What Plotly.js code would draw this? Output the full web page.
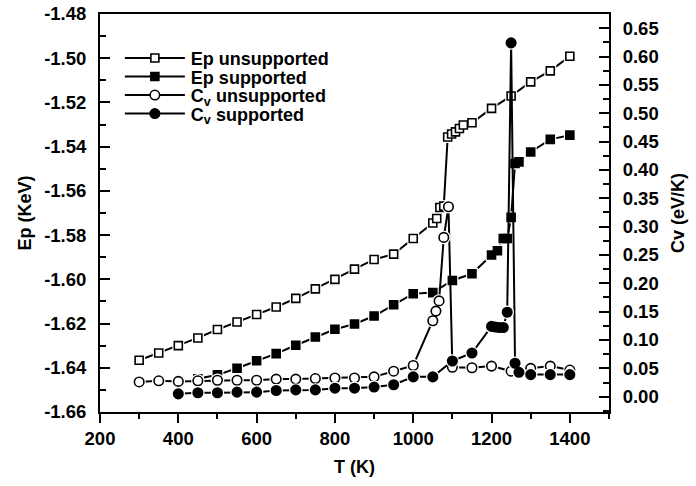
<!DOCTYPE html>
<html>
<head>
<meta charset="utf-8">
<script src="https://cdn.plot.ly/plotly-3.0.1.min.js"></script>
<style>html,body{margin:0;padding:0;background:#fff;}#chart{width:696px;height:486px;}</style>
</head>
<body>
<div id="chart"></div>
<script>
// ---- data ----
var T_epUnsup = [300,350,400,450,500,550,600,650,700,750,800,850,900,950,1000,1050,1060,1068,1078,1088,1098,1108,1118,1128,1150,1200,1250,1300,1350,1400];
var ep_unsupported = [-1.6366,-1.6333,-1.6300,-1.6265,-1.6227,-1.6193,-1.6159,-1.6125,-1.6086,-1.6043,-1.6000,-1.5954,-1.5910,-1.5886,-1.5815,-1.5745,-1.5725,-1.5675,-1.5669,-1.5356,-1.5343,-1.5333,-1.5318,-1.5302,-1.5292,-1.5227,-1.5171,-1.5107,-1.5057,-1.4991];

var T_epSup = [450,500,550,600,650,700,750,800,850,900,950,1000,1050,1100,1150,1200,1215,1230,1240,1250,1260,1270,1300,1350,1400];
var ep_supported = [-1.6450,-1.6432,-1.6402,-1.6368,-1.6336,-1.6298,-1.6261,-1.6226,-1.6202,-1.6166,-1.6115,-1.6065,-1.6060,-1.6005,-1.5975,-1.5890,-1.5871,-1.5815,-1.5815,-1.5720,-1.5476,-1.5469,-1.5424,-1.5367,-1.5348];

var T_cvUnsup = [300,350,400,450,500,550,600,650,700,750,800,850,900,950,1000,1050,1058,1066,1078,1090,1100,1150,1200,1250,1300,1350,1400];
var cv_unsupported = [0.026,0.028,0.027,0.028,0.029,0.029,0.029,0.031,0.031,0.032,0.033,0.033,0.035,0.045,0.055,0.134,0.151,0.169,0.281,0.335,0.052,0.051,0.054,0.045,0.050,0.054,0.047];

var T_cvSup = [400,450,500,550,600,650,700,750,800,850,900,950,1000,1050,1100,1150,1200,1210,1220,1230,1240,1250,1260,1270,1300,1350,1400];
var cv_supported = [0.005,0.007,0.007,0.008,0.008,0.011,0.012,0.012,0.015,0.015,0.017,0.021,0.035,0.035,0.063,0.077,0.124,0.123,0.122,0.122,0.149,0.624,0.059,0.043,0.039,0.039,0.039];

var seriesNames = ["Ep unsupported","Ep supported","C<sub>v</sub> unsupported","C<sub>v</sub> supported"];
var leftTickVals = [-1.66,-1.64,-1.62,-1.60,-1.58,-1.56,-1.54,-1.52,-1.50,-1.48];
var leftTickText = ["-1.66","-1.64","-1.62","-1.60","-1.58","-1.56","-1.54","-1.52","-1.50","-1.48"];
var xAxisTitle = "T (K)";
var leftAxisTitle = "Ep (KeV)";
var rightAxisTitle = "Cv (eV/K)";

// ---- styling ----
var FONT = "Liberation Sans, Arial, Helvetica, sans-serif";
var series = [
  {x:T_epUnsup, y:ep_unsupported, name:seriesNames[0], axis:'y',  symbol:'square', fill:'#ffffff', size:8},
  {x:T_epSup,   y:ep_supported,   name:seriesNames[1], axis:'y',  symbol:'square', fill:'#000000', size:8},
  {x:T_cvUnsup, y:cv_unsupported, name:seriesNames[2], axis:'y2', symbol:'circle', fill:'#ffffff', size:9.5},
  {x:T_cvSup,   y:cv_supported,   name:seriesNames[3], axis:'y2', symbol:'circle', fill:'#000000', size:9.5}
];

var traces = [];
series.forEach(function(s){
  traces.push({
    type:'scatter', mode:'lines+markers', x:s.x, y:s.y, yaxis:s.axis, name:s.name,
    line:{color:'#000', width:2},
    marker:{symbol:s.symbol, size:s.size, color:s.fill, line:{color:'#000', width:1.6}},
    cliponaxis:false
  });
  traces.push({
    type:'scatter', mode:'markers', x:s.x, y:s.y, yaxis:s.axis, showlegend:false, hoverinfo:'skip',
    marker:{symbol:s.symbol, size:s.size+4, color:'#ffffff', line:{width:0}},
    cliponaxis:false
  });
  traces.push({
    type:'scatter', mode:'markers', x:s.x, y:s.y, yaxis:s.axis, showlegend:false,
    marker:{symbol:s.symbol, size:s.size, color:s.fill, line:{color:'#000', width:1.6}},
    cliponaxis:false
  });
});

var tickFont = {family:FONT, size:18.5, color:'#000', weight:'bold'};
var titleFont = {family:FONT, size:18, color:'#000', weight:'bold'};

var layout = {
  width:696, height:486,
  margin:{l:100, r:87, t:14, b:74},
  paper_bgcolor:'#fff', plot_bgcolor:'#fff',
  showlegend:true,
  legend:{x:0.041, y:0.935, xanchor:'left', yanchor:'top', bgcolor:'rgba(0,0,0,0)',
          font:{family:FONT, size:18, color:'#000', weight:'bold'}, itemwidth:60, tracegroupgap:0},
  xaxis:{
    range:[200,1500], tick0:200, dtick:200, showgrid:false, zeroline:false,
    showline:true, linecolor:'#000', linewidth:2, mirror:true,
    ticks:'outside', ticklen:9, tickwidth:2, tickcolor:'#000',
    minor:{dtick:100, ticks:'outside', ticklen:5, tickwidth:2, tickcolor:'#000'},
    tickfont:tickFont,
    title:{text:xAxisTitle, font:titleFont, standoff:12}
  },
  yaxis:{
    range:[-1.66,-1.48], tickmode:'array', tickvals:leftTickVals, ticktext:leftTickText,
    showgrid:false, zeroline:false,
    showline:true, linecolor:'#000', linewidth:2,
    ticks:'inside', ticklen:10, tickwidth:2, tickcolor:'#000',
    minor:{dtick:0.01, tick0:-1.66, ticks:'inside', ticklen:6, tickwidth:2, tickcolor:'#000'},
    tickfont:tickFont, ticklabelstandoff:8,
    title:{text:leftAxisTitle, font:titleFont, standoff:8}
  },
  yaxis2:{
    overlaying:'y', side:'right', anchor:'x',
    range:[-0.027,0.675], tick0:0, dtick:0.05, tickformat:'.2f',
    showgrid:false, zeroline:false,
    showline:true, linecolor:'#000', linewidth:2,
    ticks:'inside', ticklen:10, tickwidth:2, tickcolor:'#000',
    minor:{dtick:0.025, tick0:0, ticks:'inside', ticklen:6, tickwidth:2, tickcolor:'#000'},
    tickfont:tickFont, ticklabelstandoff:8,
    title:{text:rightAxisTitle, font:titleFont, standoff:14}
  }
};

Plotly.newPlot('chart', traces, layout, {staticPlot:true, displayModeBar:false}).then(function(gd){
  // Origin-style legend: longer line sample, marker centred on it, tighter rows
  var items = gd.querySelectorAll('.legend .traces');
  var y0 = null;
  items.forEach(function(g, i){
    var tr = g.getAttribute('transform') || '';
    var m = /translate\(\s*([-\d.]+)[ ,]+([-\d.]+)\s*\)/.exec(tr);
    if(m){
      var x = parseFloat(m[1]), y = parseFloat(m[2]);
      if(y0 === null) y0 = y;
      g.setAttribute('transform', 'translate(' + x + ',' + (y0 + i*18.5) + ')');
    }
    var ln = g.querySelector('path.js-line');
    if(ln) ln.setAttribute('d', 'M4,0h60');
    g.querySelectorAll('path.scatterpts').forEach(function(p){
      p.setAttribute('transform', 'translate(34,0)');
    });
  });
});
</script>
</body>
</html>
